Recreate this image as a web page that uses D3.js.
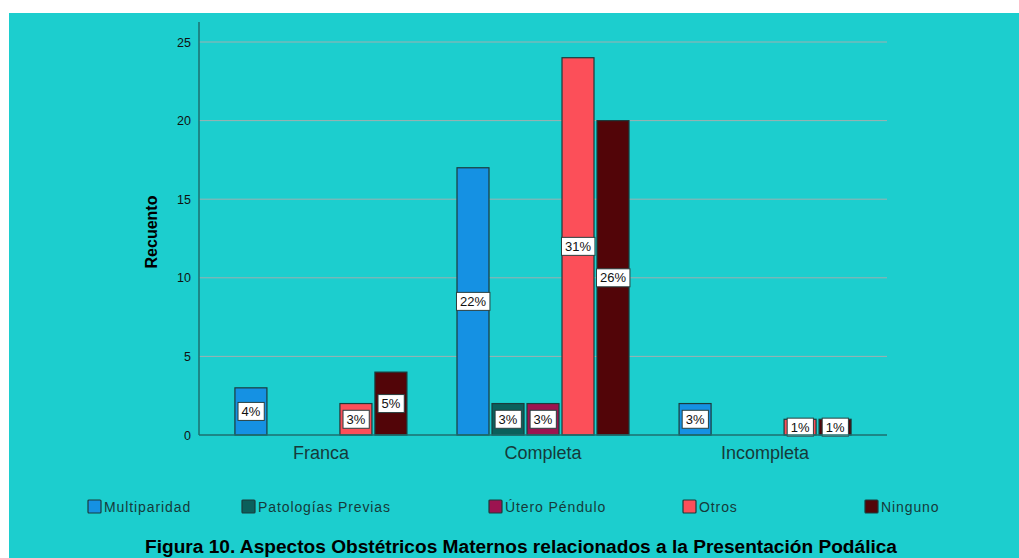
<!DOCTYPE html>
<html>
<head>
<meta charset="utf-8">
<script src="https://cdn.jsdelivr.net/npm/d3@7"></script>
<style>
  html, body { margin: 0; padding: 0; background: #ffffff; }
  svg { display: block; font-family: "Liberation Sans", Arial, sans-serif; }
</style>
</head>
<body>
<svg id="chart" width="1019" height="558"></svg>
<script>
// Categories and series
const categories = ["Franca", "Completa", "Incompleta"];
const seriesNames = ["Multiparidad", "Patologías Previas", "Útero Péndulo", "Otros", "Ninguno"];
const seriesColors = ["#1591e3", "#0b5f5b", "#9c1450", "#fc4f59", "#520508"];

// Counts per series, one value per category
const multiparidad = [3, 17, 2];
const patologiasPrevias = [0, 2, 0];
const uteroPendulo = [0, 2, 0];
const otros = [2, 24, 1];
const ninguno = [4, 20, 1];

const yTicks = [0, 5, 10, 15, 20, 25];

const seriesValues = [multiparidad, patologiasPrevias, uteroPendulo, otros, ninguno];
const total = d3.sum(seriesValues.flat());

const rows = [];
categories.forEach((c, ci) => {
  seriesNames.forEach((s, si) => {
    rows.push({ category: c, series: s, si, value: seriesValues[si][ci] });
  });
});

const svg = d3.select("#chart");

// Panel background
svg.append("rect").attr("x", 9).attr("y", 13).attr("width", 1010).attr("height", 545).attr("fill", "#1ccece");

const plot = { left: 199, right: 887, top: 22, bottom: 435 };

const y = d3.scaleLinear().domain([0, 25]).range([plot.bottom, 42]);
const x0 = d3.scaleBand().domain(categories).range([plot.left, plot.right]).paddingInner(0.212).paddingOuter(0.155);
const x1 = d3.scaleBand().domain(seriesNames).range([0, x0.bandwidth()]);
const color = d3.scaleOrdinal().domain(seriesNames).range(seriesColors);

// Grid lines
svg.append("g").selectAll("line").data(yTicks.filter(t => t > 0)).join("line")
  .attr("x1", plot.left).attr("x2", plot.right)
  .attr("y1", d => y(d)).attr("y2", d => y(d))
  .attr("stroke", "#9fb0b0").attr("stroke-width", 1);

// Y axis
const yAxis = svg.append("g").attr("transform", `translate(${plot.left},0)`)
  .call(d3.axisLeft(y).tickValues(yTicks).tickSize(0).tickPadding(8));
yAxis.select(".domain").remove();
yAxis.selectAll("text").attr("font-size", 12.5).attr("fill", "#111").attr("font-family", "Liberation Sans, Arial, sans-serif");
svg.append("line").attr("x1", plot.left).attr("x2", plot.left).attr("y1", plot.top).attr("y2", plot.bottom)
  .attr("stroke", "#1d6f6f").attr("stroke-width", 1.5);

// Y axis title
svg.append("text").attr("transform", `translate(157,232) rotate(-90)`)
  .attr("text-anchor", "middle").attr("font-size", 16.5).attr("font-weight", "bold").attr("fill", "#000")
  .attr("textLength", 73).attr("lengthAdjust", "spacingAndGlyphs")
  .text("Recuento");

// Bars
const barInset = 1.5;
const bars = svg.append("g").selectAll("g").data(rows.filter(d => d.value > 0)).join("g")
  .attr("transform", d => `translate(${x0(d.category) + x1(d.series)},0)`);

bars.append("rect")
  .attr("x", barInset)
  .attr("width", x1.bandwidth() - 2 * barInset)
  .attr("y", d => y(d.value))
  .attr("height", d => y(0) - y(d.value))
  .attr("fill", d => color(d.series))
  .attr("stroke", "#1b3b3b").attr("stroke-width", 1.2);

// X axis line
svg.append("line").attr("x1", plot.left).attr("x2", plot.right).attr("y1", plot.bottom).attr("y2", plot.bottom)
  .attr("stroke", "#1d6f6f").attr("stroke-width", 1.5);

// Percentage labels
bars.each(function (d) {
  const g = d3.select(this);
  const pct = Math.round(d.value / total * 100) + "%";
  const cx = x1.bandwidth() / 2;
  let cy = y(d.value / 2);
  cy = Math.min(cy, plot.bottom - 6);
  const t = g.append("text").attr("x", cx).attr("y", cy + 4.5).attr("text-anchor", "middle")
    .attr("font-size", 13).attr("fill", "#111").text(pct);
  const bb = t.node().getBBox();
  g.insert("rect", "text")
    .attr("x", bb.x - 3.5).attr("y", cy - 9).attr("width", bb.width + 7).attr("height", 18)
    .attr("fill", "#ffffff").attr("stroke", "#2a4040").attr("stroke-width", 1);
});

// Category labels
svg.append("g").selectAll("text").data(categories).join("text")
  .attr("x", d => x0(d) + x0.bandwidth() / 2).attr("y", 459)
  .attr("text-anchor", "middle").attr("font-size", 18).attr("fill", "#163a3a").text(d => d);

// Legend
const legendX = [88, 242, 489, 683, 865];
const legend = svg.append("g").selectAll("g").data(seriesNames).join("g")
  .attr("transform", (d, i) => `translate(${legendX[i]},500)`);
legend.append("rect").attr("width", 13).attr("height", 13).attr("rx", 1)
  .attr("fill", d => color(d)).attr("stroke", "#1b3b3b").attr("stroke-width", 1.2);
legend.append("text").attr("x", 16).attr("y", 12).attr("font-size", 14).attr("fill", "#163a3a")
  .attr("letter-spacing", 0.9).text(d => d);

// Figure caption
svg.append("text").attr("x", 521).attr("y", 553).attr("text-anchor", "middle")
  .attr("font-size", 18).attr("font-weight", "bold").attr("fill", "#000")
  .attr("textLength", 752).attr("lengthAdjust", "spacingAndGlyphs")
  .text("Figura 10. Aspectos Obstétricos Maternos relacionados a la Presentación Podálica");
</script>
</body>
</html>
